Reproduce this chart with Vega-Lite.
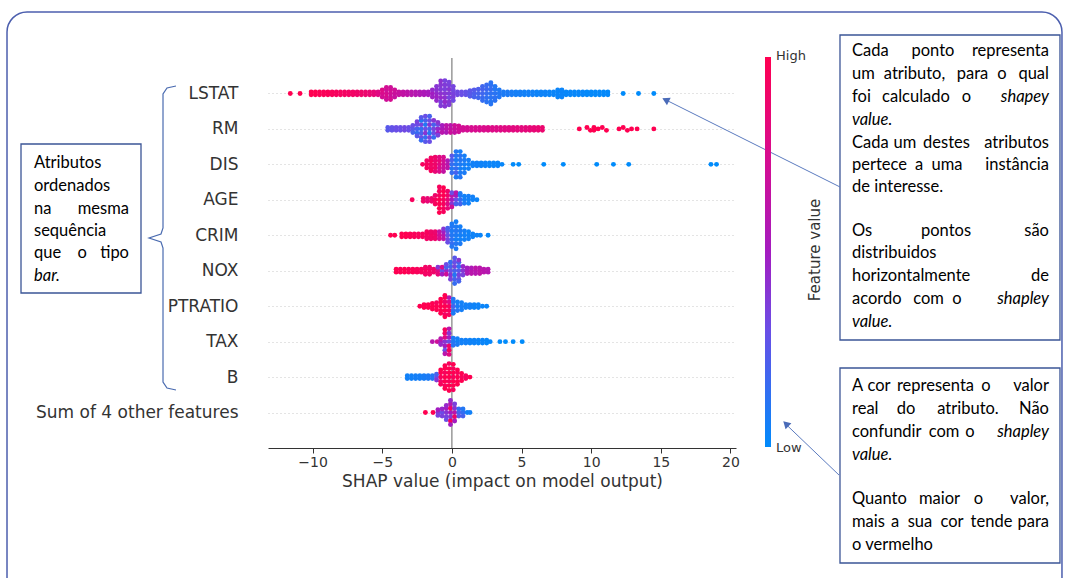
{
"$schema": "https://vega.github.io/schema/vega-lite/v6.json",
"width": 468, "height": 390,
"autosize": "none",
"padding": {"left": 268, "top": 58, "right": 329, "bottom": 130},
"background": "white",
"config": {"view": {"stroke": null}},
"datasets": {
"pts": [
{"x":-11.6,"y":9,"v":1},{"x":-10.9,"y":9,"v":1},
{"x":-10.1,"y":9.04,"v":1},{"x":-10.1,"y":8.96,"v":1},
{"x":-9.8,"y":9.04,"v":1},{"x":-9.8,"y":8.96,"v":1},
{"x":-9.5,"y":9.04,"v":0.98},{"x":-9.5,"y":8.96,"v":0.98},
{"x":-9.2,"y":9.04,"v":0.97},{"x":-9.2,"y":8.96,"v":0.97},
{"x":-8.9,"y":9.04,"v":0.97},{"x":-8.9,"y":8.96,"v":0.97},
{"x":-8.6,"y":9.04,"v":0.96},{"x":-8.6,"y":8.96,"v":0.96},
{"x":-8.3,"y":9.04,"v":0.95},{"x":-8.3,"y":8.96,"v":0.95},
{"x":-8,"y":9.04,"v":0.94},{"x":-8,"y":8.96,"v":0.94},
{"x":-7.7,"y":9.04,"v":0.93},{"x":-7.7,"y":8.96,"v":0.93},
{"x":-7.4,"y":9.04,"v":0.92},{"x":-7.4,"y":8.96,"v":0.92},
{"x":-7.1,"y":9.04,"v":0.92},{"x":-7.1,"y":8.96,"v":0.92},
{"x":-6.8,"y":9.04,"v":0.9},{"x":-6.8,"y":8.96,"v":0.9},
{"x":-6.5,"y":9.04,"v":0.9},{"x":-6.5,"y":8.96,"v":0.9},
{"x":-6.2,"y":9.04,"v":0.88},{"x":-6.2,"y":8.96,"v":0.88},
{"x":-5.9,"y":9.04,"v":0.86},{"x":-5.9,"y":8.96,"v":0.86},
{"x":-5.6,"y":9.04,"v":0.84},{"x":-5.6,"y":8.96,"v":0.84},
{"x":-5.3,"y":9.04,"v":0.8},{"x":-5.3,"y":8.96,"v":0.8},
{"x":-5,"y":9,"v":0.76},{"x":-5,"y":9.1,"v":0.78},{"x":-5,"y":8.9,"v":0.72},
{"x":-4.7,"y":9,"v":0.74},{"x":-4.7,"y":9.1,"v":0.7},{"x":-4.7,"y":8.9,"v":0.76},{"x":-4.7,"y":9.17,"v":0.72},{"x":-4.7,"y":8.83,"v":0.7},
{"x":-4.4,"y":9,"v":0.7},{"x":-4.4,"y":9.1,"v":0.72},{"x":-4.4,"y":8.9,"v":0.68},{"x":-4.4,"y":9.17,"v":0.7},{"x":-4.4,"y":8.83,"v":0.74},
{"x":-4.1,"y":9,"v":0.68},{"x":-4.1,"y":9.1,"v":0.7},{"x":-4.1,"y":8.9,"v":0.66},
{"x":-3.8,"y":9.04,"v":0.66},{"x":-3.8,"y":8.96,"v":0.66},
{"x":-3.5,"y":9.04,"v":0.64},{"x":-3.5,"y":8.96,"v":0.64},
{"x":-3.2,"y":9.04,"v":0.62},{"x":-3.2,"y":8.96,"v":0.62},
{"x":-2.9,"y":9.04,"v":0.6},{"x":-2.9,"y":8.96,"v":0.6},
{"x":-2.6,"y":9.04,"v":0.58},{"x":-2.6,"y":8.96,"v":0.58},
{"x":-2.3,"y":9.04,"v":0.56},{"x":-2.3,"y":8.96,"v":0.56},
{"x":-2,"y":9.04,"v":0.54},{"x":-2,"y":8.96,"v":0.54},
{"x":-1.7,"y":9.04,"v":0.52},{"x":-1.7,"y":8.96,"v":0.52},
{"x":-1.4,"y":9,"v":0.5},{"x":-1.4,"y":9.1,"v":0.45},{"x":-1.4,"y":8.9,"v":0.48},
{"x":-1.1,"y":9,"v":0.45},{"x":-1.1,"y":9.1,"v":0.42},{"x":-1.1,"y":8.9,"v":0.48},{"x":-1.1,"y":9.2,"v":0.4},{"x":-1.1,"y":8.8,"v":0.45},
{"x":-0.8,"y":9,"v":0.42},{"x":-0.8,"y":9.12,"v":0.38},{"x":-0.8,"y":8.88,"v":0.45},{"x":-0.8,"y":9.24,"v":0.4},{"x":-0.8,"y":8.76,"v":0.36},{"x":-0.8,"y":9.35,"v":0.42},{"x":-0.8,"y":8.65,"v":0.38},
{"x":-0.5,"y":9,"v":0.4},{"x":-0.5,"y":9.12,"v":0.36},{"x":-0.5,"y":8.88,"v":0.42},{"x":-0.5,"y":9.24,"v":0.38},{"x":-0.5,"y":8.76,"v":0.44},{"x":-0.5,"y":9.36,"v":0.35},{"x":-0.5,"y":8.64,"v":0.4},
{"x":-0.2,"y":9,"v":0.38},{"x":-0.2,"y":9.12,"v":0.4},{"x":-0.2,"y":8.88,"v":0.34},{"x":-0.2,"y":9.24,"v":0.36},{"x":-0.2,"y":8.76,"v":0.4},{"x":-0.2,"y":9.32,"v":0.35},{"x":-0.2,"y":8.68,"v":0.38},
{"x":0.1,"y":9,"v":0.35},{"x":0.1,"y":9.1,"v":0.33},{"x":0.1,"y":8.9,"v":0.36},{"x":0.1,"y":9.2,"v":0.34},{"x":0.1,"y":8.8,"v":0.32},
{"x":0.4,"y":9.04,"v":0.32},{"x":0.4,"y":8.96,"v":0.32},
{"x":0.7,"y":9.04,"v":0.3},{"x":0.7,"y":8.96,"v":0.3},
{"x":1,"y":9.04,"v":0.28},{"x":1,"y":8.96,"v":0.28},
{"x":1.3,"y":9,"v":0.25},{"x":1.3,"y":9.08,"v":0.26},{"x":1.3,"y":8.92,"v":0.24},
{"x":1.6,"y":9,"v":0.22},{"x":1.6,"y":9.1,"v":0.24},{"x":1.6,"y":8.9,"v":0.2},
{"x":1.9,"y":9,"v":0.2},{"x":1.9,"y":9.12,"v":0.22},{"x":1.9,"y":8.88,"v":0.18},
{"x":2.2,"y":9,"v":0.18},{"x":2.2,"y":9.12,"v":0.2},{"x":2.2,"y":8.88,"v":0.16},{"x":2.2,"y":9.2,"v":0.18},{"x":2.2,"y":8.8,"v":0.15},
{"x":2.5,"y":9,"v":0.15},{"x":2.5,"y":9.12,"v":0.17},{"x":2.5,"y":8.88,"v":0.14},{"x":2.5,"y":9.24,"v":0.16},{"x":2.5,"y":8.76,"v":0.12},
{"x":2.8,"y":9,"v":0.13},{"x":2.8,"y":9.12,"v":0.15},{"x":2.8,"y":8.88,"v":0.12},{"x":2.8,"y":9.24,"v":0.14},{"x":2.8,"y":8.76,"v":0.1},{"x":2.8,"y":9.3,"v":0.12},{"x":2.8,"y":8.7,"v":0.11},
{"x":3.1,"y":9,"v":0.12},{"x":3.1,"y":9.12,"v":0.1},{"x":3.1,"y":8.88,"v":0.13},{"x":3.1,"y":9.2,"v":0.1},{"x":3.1,"y":8.8,"v":0.12},
{"x":3.4,"y":9,"v":0.1},{"x":3.4,"y":9.1,"v":0.09},{"x":3.4,"y":8.9,"v":0.1},
{"x":3.7,"y":9.04,"v":0.08},{"x":3.7,"y":8.96,"v":0.08},
{"x":4,"y":9.04,"v":0.08},{"x":4,"y":8.96,"v":0.08},
{"x":4.3,"y":9.04,"v":0.07},{"x":4.3,"y":8.96,"v":0.07},
{"x":4.6,"y":9.04,"v":0.06},{"x":4.6,"y":8.96,"v":0.06},
{"x":4.9,"y":9.04,"v":0.06},{"x":4.9,"y":8.96,"v":0.06},
{"x":5.2,"y":9.04,"v":0.05},{"x":5.2,"y":8.96,"v":0.05},
{"x":5.5,"y":9.04,"v":0.05},{"x":5.5,"y":8.96,"v":0.05},
{"x":5.8,"y":9.04,"v":0.05},{"x":5.8,"y":8.96,"v":0.05},
{"x":6.1,"y":9.04,"v":0.04},{"x":6.1,"y":8.96,"v":0.04},
{"x":6.4,"y":9.04,"v":0.04},{"x":6.4,"y":8.96,"v":0.04},
{"x":6.7,"y":9.04,"v":0.04},{"x":6.7,"y":8.96,"v":0.04},
{"x":7,"y":9.04,"v":0.03},{"x":7,"y":8.96,"v":0.03},
{"x":7.3,"y":9.04,"v":0.03},{"x":7.3,"y":8.96,"v":0.03},
{"x":7.6,"y":9.04,"v":0.03},{"x":7.6,"y":8.96,"v":0.03},{"x":7.6,"y":9.1,"v":0.03},{"x":7.6,"y":8.9,"v":0.03},
{"x":7.9,"y":9.04,"v":0.03},{"x":7.9,"y":8.96,"v":0.03},{"x":7.9,"y":9.1,"v":0.03},{"x":7.9,"y":8.9,"v":0.03},
{"x":8.2,"y":9.04,"v":0.02},{"x":8.2,"y":8.96,"v":0.02},
{"x":8.5,"y":9.04,"v":0.02},{"x":8.5,"y":8.96,"v":0.02},
{"x":8.8,"y":9.04,"v":0.02},{"x":8.8,"y":8.96,"v":0.02},
{"x":9.1,"y":9.04,"v":0.02},{"x":9.1,"y":8.96,"v":0.02},
{"x":9.4,"y":9.04,"v":0.02},{"x":9.4,"y":8.96,"v":0.02},
{"x":9.7,"y":9.04,"v":0.01},{"x":9.7,"y":8.96,"v":0.01},
{"x":10,"y":9.04,"v":0.01},{"x":10,"y":8.96,"v":0.01},
{"x":10.3,"y":9.04,"v":0.01},{"x":10.3,"y":8.96,"v":0.01},
{"x":10.6,"y":9.04,"v":0.01},{"x":10.6,"y":8.96,"v":0.01},
{"x":10.9,"y":9.04,"v":0.01},{"x":10.9,"y":8.96,"v":0.01},
{"x":11.2,"y":9.04,"v":0.01},{"x":11.2,"y":8.96,"v":0.01},
{"x":12.3,"y":9,"v":0},{"x":13.4,"y":9,"v":0},{"x":14.5,"y":9,"v":0},

{"x":-4.6,"y":8.04,"v":0.25},{"x":-4.6,"y":7.96,"v":0.25},
{"x":-4.3,"y":8.04,"v":0.28},{"x":-4.3,"y":7.96,"v":0.28},
{"x":-4,"y":8.04,"v":0.3},{"x":-4,"y":7.96,"v":0.3},
{"x":-3.7,"y":8.04,"v":0.3},{"x":-3.7,"y":7.96,"v":0.3},
{"x":-3.4,"y":8.04,"v":0.32},{"x":-3.4,"y":7.96,"v":0.32},
{"x":-3.1,"y":8.04,"v":0.3},{"x":-3.1,"y":7.96,"v":0.3},
{"x":-2.8,"y":8,"v":0.25},{"x":-2.8,"y":8.1,"v":0.3},{"x":-2.8,"y":7.9,"v":0.2},
{"x":-2.5,"y":8,"v":0.2},{"x":-2.5,"y":8.12,"v":0.3},{"x":-2.5,"y":7.88,"v":0.15},{"x":-2.5,"y":8.2,"v":0.35},{"x":-2.5,"y":7.8,"v":0.25},
{"x":-2.2,"y":8,"v":0.15},{"x":-2.2,"y":8.12,"v":0.35},{"x":-2.2,"y":7.88,"v":0.2},{"x":-2.2,"y":8.24,"v":0.1},{"x":-2.2,"y":7.76,"v":0.3},{"x":-2.2,"y":8.32,"v":0.25},{"x":-2.2,"y":7.68,"v":0.15},
{"x":-1.9,"y":8,"v":0.3},{"x":-1.9,"y":8.12,"v":0.1},{"x":-1.9,"y":7.88,"v":0.4},{"x":-1.9,"y":8.24,"v":0.2},{"x":-1.9,"y":7.76,"v":0.15},{"x":-1.9,"y":8.36,"v":0.3},{"x":-1.9,"y":7.64,"v":0.25},
{"x":-1.6,"y":8,"v":0.2},{"x":-1.6,"y":8.12,"v":0.4},{"x":-1.6,"y":7.88,"v":0.1},{"x":-1.6,"y":8.24,"v":0.3},{"x":-1.6,"y":7.76,"v":0.35},{"x":-1.6,"y":8.36,"v":0.2},{"x":-1.6,"y":7.64,"v":0.3},
{"x":-1.3,"y":8,"v":0.35},{"x":-1.3,"y":8.12,"v":0.2},{"x":-1.3,"y":7.88,"v":0.3},{"x":-1.3,"y":8.24,"v":0.4},{"x":-1.3,"y":7.76,"v":0.15},
{"x":-1,"y":8,"v":0.45},{"x":-1,"y":8.12,"v":0.3},{"x":-1,"y":7.88,"v":0.5},{"x":-1,"y":8.18,"v":0.4},{"x":-1,"y":7.82,"v":0.35},
{"x":-0.7,"y":8,"v":0.55},{"x":-0.7,"y":8.1,"v":0.5},{"x":-0.7,"y":7.9,"v":0.6},
{"x":-0.4,"y":8,"v":0.6},{"x":-0.4,"y":8.1,"v":0.62},{"x":-0.4,"y":7.9,"v":0.55},
{"x":-0.1,"y":8,"v":0.65},{"x":-0.1,"y":8.1,"v":0.6},{"x":-0.1,"y":7.9,"v":0.68},
{"x":0.2,"y":8,"v":0.68},{"x":0.2,"y":8.1,"v":0.7},{"x":0.2,"y":7.9,"v":0.65},
{"x":0.5,"y":8,"v":0.7},{"x":0.5,"y":8.08,"v":0.72},{"x":0.5,"y":7.92,"v":0.7},
{"x":0.8,"y":8.04,"v":0.72},{"x":0.8,"y":7.96,"v":0.72},
{"x":1.1,"y":8.04,"v":0.73},{"x":1.1,"y":7.96,"v":0.73},
{"x":1.4,"y":8.04,"v":0.74},{"x":1.4,"y":7.96,"v":0.74},
{"x":1.7,"y":8.04,"v":0.75},{"x":1.7,"y":7.96,"v":0.75},
{"x":2,"y":8.04,"v":0.75},{"x":2,"y":7.96,"v":0.75},
{"x":2.3,"y":8.04,"v":0.76},{"x":2.3,"y":7.96,"v":0.76},
{"x":2.6,"y":8.04,"v":0.77},{"x":2.6,"y":7.96,"v":0.77},
{"x":2.9,"y":8.04,"v":0.78},{"x":2.9,"y":7.96,"v":0.78},
{"x":3.2,"y":8.04,"v":0.78},{"x":3.2,"y":7.96,"v":0.78},
{"x":3.5,"y":8.04,"v":0.79},{"x":3.5,"y":7.96,"v":0.79},
{"x":3.8,"y":8.04,"v":0.8},{"x":3.8,"y":7.96,"v":0.8},
{"x":4.1,"y":8.04,"v":0.8},{"x":4.1,"y":7.96,"v":0.8},
{"x":4.4,"y":8.04,"v":0.81},{"x":4.4,"y":7.96,"v":0.81},
{"x":4.7,"y":8.04,"v":0.82},{"x":4.7,"y":7.96,"v":0.82},
{"x":5,"y":8.04,"v":0.82},{"x":5,"y":7.96,"v":0.82},
{"x":5.3,"y":8.04,"v":0.83},{"x":5.3,"y":7.96,"v":0.83},
{"x":5.6,"y":8.04,"v":0.84},{"x":5.6,"y":7.96,"v":0.84},
{"x":5.9,"y":8.04,"v":0.85},{"x":5.9,"y":7.96,"v":0.85},
{"x":6.2,"y":8.04,"v":0.86},{"x":6.2,"y":7.96,"v":0.86},
{"x":6.5,"y":8.04,"v":0.88},{"x":6.5,"y":7.96,"v":0.88},
{"x":9.15,"y":8,"v":1},{"x":9.7,"y":8.04,"v":1},{"x":9.95,"y":7.96,"v":1},{"x":10.2,"y":8.04,"v":1},{"x":10.2,"y":7.96,"v":1},{"x":10.5,"y":8,"v":1},{"x":10.8,"y":8.04,"v":1},{"x":11.1,"y":7.96,"v":1},
{"x":12,"y":8,"v":1},{"x":12.3,"y":8.04,"v":1},{"x":12.6,"y":7.96,"v":1},{"x":12.9,"y":8,"v":1},{"x":13.3,"y":8,"v":1},{"x":14.5,"y":8,"v":1},

{"x":-2.1,"y":7,"v":0.95},
{"x":-1.8,"y":7,"v":0.95},{"x":-1.8,"y":7.1,"v":0.92},{"x":-1.8,"y":6.9,"v":0.95},
{"x":-1.5,"y":7,"v":0.92},{"x":-1.5,"y":7.1,"v":0.95},{"x":-1.5,"y":6.9,"v":0.9},{"x":-1.5,"y":7.18,"v":0.92},{"x":-1.5,"y":6.82,"v":0.95},
{"x":-1.2,"y":7,"v":0.9},{"x":-1.2,"y":7.1,"v":0.88},{"x":-1.2,"y":6.9,"v":0.92},{"x":-1.2,"y":7.2,"v":0.9},{"x":-1.2,"y":6.8,"v":0.85},
{"x":-0.9,"y":7,"v":0.8},{"x":-0.9,"y":7.1,"v":0.85},{"x":-0.9,"y":6.9,"v":0.75},{"x":-0.9,"y":7.2,"v":0.8},{"x":-0.9,"y":6.8,"v":0.78},
{"x":-0.6,"y":7,"v":0.7},{"x":-0.6,"y":7.1,"v":0.72},{"x":-0.6,"y":6.9,"v":0.68},{"x":-0.6,"y":7.2,"v":0.75},{"x":-0.6,"y":6.8,"v":0.65},
{"x":-0.3,"y":7,"v":0.6},{"x":-0.3,"y":7.1,"v":0.55},{"x":-0.3,"y":6.9,"v":0.62},
{"x":0,"y":7,"v":0.15},{"x":0,"y":7.12,"v":0.2},{"x":0,"y":6.88,"v":0.1},{"x":0,"y":7.24,"v":0.25},{"x":0,"y":6.76,"v":0.15},
{"x":0.3,"y":7,"v":0.1},{"x":0.3,"y":7.12,"v":0.08},{"x":0.3,"y":6.88,"v":0.15},{"x":0.3,"y":7.24,"v":0.1},{"x":0.3,"y":6.76,"v":0.2},{"x":0.3,"y":7.36,"v":0.1},{"x":0.3,"y":6.64,"v":0.08},
{"x":0.6,"y":7,"v":0.08},{"x":0.6,"y":7.12,"v":0.1},{"x":0.6,"y":6.88,"v":0.06},{"x":0.6,"y":7.24,"v":0.12},{"x":0.6,"y":6.76,"v":0.08},{"x":0.6,"y":7.36,"v":0.06},{"x":0.6,"y":6.64,"v":0.1},
{"x":0.9,"y":7,"v":0.06},{"x":0.9,"y":7.12,"v":0.08},{"x":0.9,"y":6.88,"v":0.05},{"x":0.9,"y":7.24,"v":0.06},{"x":0.9,"y":6.76,"v":0.08},
{"x":1.2,"y":7,"v":0.05},{"x":1.2,"y":7.12,"v":0.06},{"x":1.2,"y":6.88,"v":0.05},
{"x":1.5,"y":7.04,"v":0.05},{"x":1.5,"y":6.96,"v":0.05},
{"x":1.8,"y":7.04,"v":0.05},{"x":1.8,"y":6.96,"v":0.05},
{"x":2.1,"y":7.04,"v":0.04},{"x":2.1,"y":6.96,"v":0.04},
{"x":2.4,"y":7.04,"v":0.04},{"x":2.4,"y":6.96,"v":0.04},
{"x":2.7,"y":7.04,"v":0.03},{"x":2.7,"y":6.96,"v":0.03},
{"x":3,"y":7.04,"v":0.03},{"x":3,"y":6.96,"v":0.03},
{"x":3.3,"y":7.04,"v":0.03},{"x":3.3,"y":6.96,"v":0.03},
{"x":3.6,"y":7,"v":0.02},
{"x":4.4,"y":7,"v":0},{"x":4.8,"y":7,"v":0},{"x":6.6,"y":7,"v":0},{"x":8,"y":7,"v":0},{"x":10.4,"y":7,"v":0},{"x":11.6,"y":7,"v":0},{"x":12.7,"y":7,"v":0},{"x":18.6,"y":7,"v":0},{"x":19,"y":7,"v":0},

{"x":-2.85,"y":6,"v":0.95},
{"x":-2.05,"y":6.04,"v":0.9},{"x":-2.05,"y":5.96,"v":0.9},
{"x":-1.75,"y":6.04,"v":0.85},{"x":-1.75,"y":5.96,"v":0.85},
{"x":-1.45,"y":6.04,"v":0.9},{"x":-1.45,"y":5.96,"v":0.9},
{"x":-1.2,"y":6,"v":0.95},{"x":-1.2,"y":6.12,"v":0.9},{"x":-1.2,"y":5.88,"v":0.95},
{"x":-0.9,"y":6,"v":1},{"x":-0.9,"y":6.12,"v":0.95},{"x":-0.9,"y":5.88,"v":1},{"x":-0.9,"y":6.24,"v":0.95},{"x":-0.9,"y":5.76,"v":1},{"x":-0.9,"y":6.36,"v":0.95},{"x":-0.9,"y":5.64,"v":1},
{"x":-0.6,"y":6,"v":0.95},{"x":-0.6,"y":6.12,"v":1},{"x":-0.6,"y":5.88,"v":0.95},{"x":-0.6,"y":6.24,"v":1},{"x":-0.6,"y":5.76,"v":0.95},{"x":-0.6,"y":6.34,"v":1},{"x":-0.6,"y":5.66,"v":0.95},
{"x":-0.3,"y":6,"v":0.85},{"x":-0.3,"y":6.12,"v":0.9},{"x":-0.3,"y":5.88,"v":0.8},{"x":-0.3,"y":6.24,"v":0.9},{"x":-0.3,"y":5.76,"v":0.85},
{"x":0,"y":6,"v":0.5},{"x":0,"y":6.12,"v":0.6},{"x":0,"y":5.88,"v":0.4},{"x":0,"y":6.2,"v":0.3},{"x":0,"y":5.8,"v":0.7},
{"x":0.3,"y":6,"v":0.3},{"x":0.3,"y":6.12,"v":0.5},{"x":0.3,"y":5.88,"v":0.2},{"x":0.3,"y":6.2,"v":0.6},
{"x":0.6,"y":6,"v":0.15},{"x":0.6,"y":6.12,"v":0.1},{"x":0.6,"y":5.88,"v":0.2},{"x":0.6,"y":6.18,"v":0.08},
{"x":0.9,"y":6,"v":0.06},{"x":0.9,"y":6.1,"v":0.05},{"x":0.9,"y":5.9,"v":0.08},
{"x":1.2,"y":6,"v":0.05},{"x":1.2,"y":6.1,"v":0.06},{"x":1.2,"y":5.9,"v":0.05},
{"x":1.5,"y":6,"v":0.04},{"x":1.5,"y":6.08,"v":0.05},
{"x":1.8,"y":6,"v":0.03},

{"x":-4.4,"y":5,"v":1},{"x":-4.1,"y":5,"v":1},
{"x":-3.6,"y":5.04,"v":1},{"x":-3.6,"y":4.96,"v":1},
{"x":-3.3,"y":5.04,"v":1},{"x":-3.3,"y":4.96,"v":1},
{"x":-3,"y":5.04,"v":0.98},{"x":-3,"y":4.96,"v":0.98},
{"x":-2.7,"y":5.04,"v":0.97},{"x":-2.7,"y":4.96,"v":0.97},
{"x":-2.4,"y":5.04,"v":0.96},{"x":-2.4,"y":4.96,"v":0.96},
{"x":-2.1,"y":5.04,"v":0.95},{"x":-2.1,"y":4.96,"v":0.95},
{"x":-1.8,"y":5.04,"v":0.94},{"x":-1.8,"y":4.96,"v":0.94},{"x":-1.8,"y":5.1,"v":0.95},{"x":-1.8,"y":4.9,"v":0.92},
{"x":-1.5,"y":5.04,"v":0.92},{"x":-1.5,"y":4.96,"v":0.92},{"x":-1.5,"y":5.1,"v":0.9},{"x":-1.5,"y":4.9,"v":0.9},
{"x":-1.2,"y":5.04,"v":0.9},{"x":-1.2,"y":4.96,"v":0.9},{"x":-1.2,"y":5.1,"v":0.88},{"x":-1.2,"y":4.9,"v":0.9},
{"x":-0.9,"y":5,"v":0.7},{"x":-0.9,"y":5.1,"v":0.65},{"x":-0.9,"y":4.9,"v":0.75},
{"x":-0.6,"y":5,"v":0.6},{"x":-0.6,"y":5.1,"v":0.5},{"x":-0.6,"y":4.9,"v":0.62},{"x":-0.6,"y":5.18,"v":0.4},
{"x":-0.3,"y":5,"v":0.3},{"x":-0.3,"y":5.12,"v":0.25},{"x":-0.3,"y":4.88,"v":0.35},{"x":-0.3,"y":5.2,"v":0.2},{"x":-0.3,"y":4.8,"v":0.3},
{"x":0,"y":5,"v":0.1},{"x":0,"y":5.12,"v":0.08},{"x":0,"y":4.88,"v":0.12},{"x":0,"y":5.24,"v":0.1},{"x":0,"y":4.76,"v":0.15},{"x":0,"y":5.32,"v":0.08},{"x":0,"y":4.68,"v":0.1},
{"x":0.3,"y":5,"v":0.08},{"x":0.3,"y":5.12,"v":0.1},{"x":0.3,"y":4.88,"v":0.06},{"x":0.3,"y":5.24,"v":0.08},{"x":0.3,"y":4.76,"v":0.1},{"x":0.3,"y":5.38,"v":0.06},{"x":0.3,"y":4.62,"v":0.08},
{"x":0.6,"y":5,"v":0.06},{"x":0.6,"y":5.12,"v":0.08},{"x":0.6,"y":4.88,"v":0.05},{"x":0.6,"y":5.24,"v":0.06},{"x":0.6,"y":4.76,"v":0.08},
{"x":0.9,"y":5,"v":0.05},{"x":0.9,"y":5.12,"v":0.06},{"x":0.9,"y":4.88,"v":0.05},
{"x":1.2,"y":5,"v":0.05},{"x":1.2,"y":5.1,"v":0.04},{"x":1.2,"y":4.9,"v":0.05},
{"x":1.5,"y":5.04,"v":0.04},{"x":1.5,"y":4.96,"v":0.04},
{"x":1.8,"y":5,"v":0.04},{"x":2.05,"y":5,"v":0.03},{"x":2.6,"y":5,"v":0.02},

{"x":-4,"y":4.04,"v":1},{"x":-4,"y":3.96,"v":1},
{"x":-3.7,"y":4.04,"v":0.98},{"x":-3.7,"y":3.96,"v":0.98},
{"x":-3.4,"y":4.04,"v":1},{"x":-3.4,"y":3.96,"v":1},
{"x":-3.1,"y":4.04,"v":0.97},{"x":-3.1,"y":3.96,"v":0.97},
{"x":-2.8,"y":4.04,"v":0.98},{"x":-2.8,"y":3.96,"v":0.98},
{"x":-2.5,"y":4.04,"v":0.96},{"x":-2.5,"y":3.96,"v":0.96},
{"x":-2.2,"y":4.04,"v":0.95},{"x":-2.2,"y":3.96,"v":0.95},
{"x":-1.9,"y":4.04,"v":0.95},{"x":-1.9,"y":3.96,"v":0.95},{"x":-1.9,"y":4.1,"v":0.92},{"x":-1.9,"y":3.9,"v":0.92},
{"x":-1.6,"y":4.04,"v":0.93},{"x":-1.6,"y":3.96,"v":0.93},{"x":-1.6,"y":4.1,"v":0.9},{"x":-1.6,"y":3.9,"v":0.92},
{"x":-1.3,"y":4.04,"v":0.9},{"x":-1.3,"y":3.96,"v":0.9},
{"x":-1,"y":4,"v":0.8},{"x":-1,"y":4.1,"v":0.4},{"x":-1,"y":3.9,"v":0.85},
{"x":-0.7,"y":4,"v":0.3},{"x":-0.7,"y":4.1,"v":0.75},{"x":-0.7,"y":3.9,"v":0.5},
{"x":-0.4,"y":4,"v":0.45},{"x":-0.4,"y":4.1,"v":0.2},{"x":-0.4,"y":3.9,"v":0.7},{"x":-0.4,"y":4.18,"v":0.3},
{"x":-0.1,"y":4,"v":0.3},{"x":-0.1,"y":4.12,"v":0.2},{"x":-0.1,"y":3.88,"v":0.4},{"x":-0.1,"y":4.24,"v":0.15},{"x":-0.1,"y":3.76,"v":0.35},
{"x":0.2,"y":4,"v":0.2},{"x":0.2,"y":4.12,"v":0.35},{"x":0.2,"y":3.88,"v":0.1},{"x":0.2,"y":4.24,"v":0.3},{"x":0.2,"y":3.76,"v":0.2},{"x":0.2,"y":4.36,"v":0.25},{"x":0.2,"y":3.64,"v":0.15},
{"x":0.5,"y":4,"v":0.25},{"x":0.5,"y":4.12,"v":0.15},{"x":0.5,"y":3.88,"v":0.35},{"x":0.5,"y":4.24,"v":0.2},{"x":0.5,"y":3.76,"v":0.3},{"x":0.5,"y":4.3,"v":0.4},{"x":0.5,"y":3.7,"v":0.2},
{"x":0.8,"y":4,"v":0.4},{"x":0.8,"y":4.12,"v":0.45},{"x":0.8,"y":3.88,"v":0.35},
{"x":1.1,"y":4,"v":0.55},{"x":1.1,"y":4.08,"v":0.5},{"x":1.1,"y":3.92,"v":0.55},
{"x":1.4,"y":4,"v":0.6},{"x":1.4,"y":4.08,"v":0.55},{"x":1.4,"y":3.92,"v":0.6},
{"x":1.7,"y":4,"v":0.6},{"x":1.7,"y":4.08,"v":0.62},{"x":1.7,"y":3.92,"v":0.58},
{"x":2,"y":4,"v":0.62},{"x":2,"y":4.08,"v":0.6},{"x":2,"y":3.92,"v":0.62},
{"x":2.3,"y":4.04,"v":0.6},{"x":2.3,"y":3.96,"v":0.6},
{"x":2.6,"y":4.04,"v":0.58},{"x":2.6,"y":3.96,"v":0.58},

{"x":-2.3,"y":3,"v":1},
{"x":-2,"y":3.04,"v":1},{"x":-2,"y":2.96,"v":1},
{"x":-1.7,"y":3.04,"v":1},{"x":-1.7,"y":2.96,"v":1},
{"x":-1.4,"y":3,"v":1},{"x":-1.4,"y":3.08,"v":1},{"x":-1.4,"y":2.92,"v":1},
{"x":-1.1,"y":3,"v":1},{"x":-1.1,"y":3.1,"v":0.95},{"x":-1.1,"y":2.9,"v":1},
{"x":-0.8,"y":3,"v":1},{"x":-0.8,"y":3.12,"v":1},{"x":-0.8,"y":2.88,"v":1},{"x":-0.8,"y":3.2,"v":1},{"x":-0.8,"y":2.8,"v":1},
{"x":-0.5,"y":3,"v":1},{"x":-0.5,"y":3.12,"v":0.9},{"x":-0.5,"y":2.88,"v":1},{"x":-0.5,"y":3.24,"v":1},{"x":-0.5,"y":2.76,"v":0.9},{"x":-0.5,"y":3.3,"v":1},{"x":-0.5,"y":2.7,"v":1},
{"x":-0.2,"y":3,"v":0.95},{"x":-0.2,"y":3.12,"v":0.8},{"x":-0.2,"y":2.88,"v":0.95},{"x":-0.2,"y":3.24,"v":0.6},{"x":-0.2,"y":2.76,"v":0.95},
{"x":0.1,"y":3,"v":0.2},{"x":0.1,"y":3.12,"v":0.1},{"x":0.1,"y":2.88,"v":0.15},{"x":0.1,"y":3.2,"v":0.1},{"x":0.1,"y":2.8,"v":0.08},
{"x":0.4,"y":3,"v":0.08},{"x":0.4,"y":3.12,"v":0.06},{"x":0.4,"y":2.88,"v":0.1},
{"x":0.7,"y":3,"v":0.06},{"x":0.7,"y":3.1,"v":0.05},{"x":0.7,"y":2.9,"v":0.06},
{"x":1,"y":3.04,"v":0.05},{"x":1,"y":2.96,"v":0.05},
{"x":1.3,"y":3.04,"v":0.05},{"x":1.3,"y":2.96,"v":0.05},
{"x":1.6,"y":3.04,"v":0.04},{"x":1.6,"y":2.96,"v":0.04},
{"x":1.9,"y":3.04,"v":0.04},{"x":1.9,"y":2.96,"v":0.04},
{"x":2.2,"y":3,"v":0.03},{"x":2.5,"y":3,"v":0.03},

{"x":-1.4,"y":2,"v":0.6},
{"x":-1.05,"y":2,"v":0.7},
{"x":-0.8,"y":2,"v":0.5},{"x":-0.8,"y":2.08,"v":0.6},{"x":-0.8,"y":1.92,"v":0.45},
{"x":-0.5,"y":2,"v":0.4},{"x":-0.5,"y":2.12,"v":0.8},{"x":-0.5,"y":1.88,"v":0.5},{"x":-0.5,"y":2.24,"v":0.9},{"x":-0.5,"y":1.76,"v":0.3},{"x":-0.5,"y":2.34,"v":0.95},{"x":-0.5,"y":1.66,"v":0.6},
{"x":-0.2,"y":2,"v":0.3},{"x":-0.2,"y":2.12,"v":0.5},{"x":-0.2,"y":1.88,"v":0.9},{"x":-0.2,"y":2.24,"v":0.4},{"x":-0.2,"y":1.76,"v":0.95},{"x":-0.2,"y":2.36,"v":0.6},{"x":-0.2,"y":1.64,"v":0.8},
{"x":0.1,"y":2,"v":0.1},{"x":0.1,"y":2.1,"v":0.08},{"x":0.1,"y":1.9,"v":0.12},
{"x":0.4,"y":2,"v":0.06},{"x":0.4,"y":2.08,"v":0.05},{"x":0.4,"y":1.92,"v":0.08},
{"x":0.7,"y":2.04,"v":0.05},{"x":0.7,"y":1.96,"v":0.05},
{"x":1,"y":2.04,"v":0.05},{"x":1,"y":1.96,"v":0.05},
{"x":1.3,"y":2.04,"v":0.04},{"x":1.3,"y":1.96,"v":0.04},
{"x":1.6,"y":2.04,"v":0.04},{"x":1.6,"y":1.96,"v":0.04},
{"x":1.9,"y":2.04,"v":0.03},{"x":1.9,"y":1.96,"v":0.03},
{"x":2.2,"y":2.04,"v":0.03},{"x":2.2,"y":1.96,"v":0.03},
{"x":2.5,"y":2.04,"v":0.02},{"x":2.5,"y":1.96,"v":0.02},
{"x":2.75,"y":2,"v":0.02},
{"x":3.45,"y":2,"v":0},{"x":3.85,"y":2,"v":0},{"x":4.4,"y":2,"v":0},{"x":5.05,"y":2,"v":0},

{"x":-3.2,"y":1.04,"v":0.05},{"x":-3.2,"y":0.96,"v":0.05},
{"x":-2.9,"y":1.04,"v":0.05},{"x":-2.9,"y":0.96,"v":0.05},
{"x":-2.6,"y":1.04,"v":0.06},{"x":-2.6,"y":0.96,"v":0.06},
{"x":-2.3,"y":1.04,"v":0.06},{"x":-2.3,"y":0.96,"v":0.06},
{"x":-2,"y":1.04,"v":0.07},{"x":-2,"y":0.96,"v":0.07},
{"x":-1.7,"y":1.04,"v":0.08},{"x":-1.7,"y":0.96,"v":0.08},
{"x":-1.4,"y":1.04,"v":0.1},{"x":-1.4,"y":0.96,"v":0.1},
{"x":-1.1,"y":1,"v":0.3},{"x":-1.1,"y":1.08,"v":0.2},{"x":-1.1,"y":0.92,"v":0.4},
{"x":-0.8,"y":1,"v":0.95},{"x":-0.8,"y":1.12,"v":1},{"x":-0.8,"y":0.88,"v":0.9},{"x":-0.8,"y":1.2,"v":1},{"x":-0.8,"y":0.8,"v":0.95},
{"x":-0.5,"y":1,"v":1},{"x":-0.5,"y":1.12,"v":0.95},{"x":-0.5,"y":0.88,"v":1},{"x":-0.5,"y":1.24,"v":1},{"x":-0.5,"y":0.76,"v":0.95},{"x":-0.5,"y":1.32,"v":1},{"x":-0.5,"y":0.68,"v":1},
{"x":-0.2,"y":1,"v":1},{"x":-0.2,"y":1.12,"v":1},{"x":-0.2,"y":0.88,"v":0.95},{"x":-0.2,"y":1.24,"v":1},{"x":-0.2,"y":0.76,"v":1},{"x":-0.2,"y":1.38,"v":0.95},{"x":-0.2,"y":0.62,"v":1},
{"x":0.1,"y":1,"v":0.95},{"x":0.1,"y":1.12,"v":1},{"x":0.1,"y":0.88,"v":1},{"x":0.1,"y":1.24,"v":0.95},{"x":0.1,"y":0.76,"v":1},{"x":0.1,"y":1.36,"v":1},{"x":0.1,"y":0.64,"v":0.95},
{"x":0.4,"y":1,"v":1},{"x":0.4,"y":1.12,"v":0.95},{"x":0.4,"y":0.88,"v":1},{"x":0.4,"y":1.2,"v":1},{"x":0.4,"y":0.8,"v":1},
{"x":0.7,"y":1,"v":0.95},{"x":0.7,"y":1.1,"v":1},{"x":0.7,"y":0.9,"v":1},
{"x":1,"y":1.04,"v":0.95},{"x":1,"y":0.96,"v":0.95},
{"x":1.3,"y":1,"v":1},

{"x":-1.9,"y":0,"v":1},{"x":-1.35,"y":0,"v":1},
{"x":-1,"y":0,"v":0.4},{"x":-1,"y":0.08,"v":0.5},{"x":-1,"y":-0.08,"v":0.35},
{"x":-0.7,"y":0,"v":0.3},{"x":-0.7,"y":0.1,"v":0.45},{"x":-0.7,"y":-0.1,"v":0.35},
{"x":-0.4,"y":0,"v":0.4},{"x":-0.4,"y":0.12,"v":0.5},{"x":-0.4,"y":-0.12,"v":0.35},{"x":-0.4,"y":0.2,"v":0.45},{"x":-0.4,"y":-0.2,"v":0.3},
{"x":-0.1,"y":0,"v":0.5},{"x":-0.1,"y":0.12,"v":0.9},{"x":-0.1,"y":-0.12,"v":0.4},{"x":-0.1,"y":0.24,"v":0.6},{"x":-0.1,"y":-0.24,"v":0.95},{"x":-0.1,"y":0.34,"v":0.45},{"x":-0.1,"y":-0.34,"v":0.5},
{"x":0.2,"y":0,"v":0.6},{"x":0.2,"y":0.12,"v":0.4},{"x":0.2,"y":-0.12,"v":0.9},{"x":0.2,"y":0.24,"v":0.35},{"x":0.2,"y":-0.24,"v":0.5},
{"x":0.5,"y":0,"v":0.2},{"x":0.5,"y":0.1,"v":0.15},{"x":0.5,"y":-0.1,"v":0.25},
{"x":0.8,"y":0,"v":0.15},{"x":0.8,"y":0.1,"v":0.1},{"x":0.8,"y":-0.1,"v":0.2},
{"x":1.1,"y":0,"v":0.05},{"x":1.3,"y":0,"v":0.05}
],
"txt": [
{"t":"Atributos","x":-30.0,"y":7.038,"a":"l","s":"n"},
{"t":"ordenados","x":-30.0,"y":6.39,"a":"l","s":"n"},
{"t":"na","x":-30.0,"y":5.741,"a":"l","s":"n"},
{"t":"mesma","x":-23.18,"y":5.741,"a":"r","s":"n"},
{"t":"sequência","x":-30.0,"y":5.121,"a":"l","s":"n"},
{"t":"que","x":-30.0,"y":4.5,"a":"l","s":"n"},
{"t":"o","x":-26.55,"y":4.5,"a":"c","s":"n"},
{"t":"tipo","x":-23.18,"y":4.5,"a":"r","s":"n"},
{"t":"bar.","x":-30.0,"y":3.851,"a":"l","s":"i"},
{"t":"Cada","x":28.73,"y":10.197,"a":"l","s":"n"},
{"t":"ponto","x":34.54,"y":10.197,"a":"c","s":"n"},
{"t":"representa","x":42.87,"y":10.197,"a":"r","s":"n"},
{"t":"um","x":28.73,"y":9.549,"a":"l","s":"n"},
{"t":"atributo,","x":33.214,"y":9.549,"a":"c","s":"n"},
{"t":"para","x":37.378,"y":9.549,"a":"c","s":"n"},
{"t":"o","x":39.496,"y":9.549,"a":"c","s":"n"},
{"t":"qual","x":42.87,"y":9.549,"a":"r","s":"n"},
{"t":"foi","x":28.73,"y":8.9,"a":"l","s":"n"},
{"t":"calculado","x":33.322,"y":8.9,"a":"c","s":"n"},
{"t":"o","x":36.947,"y":8.9,"a":"c","s":"n"},
{"t":"shapey","x":42.87,"y":8.9,"a":"r","s":"i"},
{"t":"value.","x":28.73,"y":8.251,"a":"l","s":"i"},
{"t":"Cada","x":28.73,"y":7.603,"a":"l","s":"n"},
{"t":"um","x":32.532,"y":7.603,"a":"c","s":"n"},
{"t":"destes","x":35.511,"y":7.603,"a":"c","s":"n"},
{"t":"atributos","x":42.87,"y":7.603,"a":"r","s":"n"},
{"t":"pertece","x":28.73,"y":6.982,"a":"l","s":"n"},
{"t":"a","x":33.537,"y":6.982,"a":"c","s":"n"},
{"t":"uma","x":35.547,"y":6.982,"a":"c","s":"n"},
{"t":"instância","x":42.87,"y":6.982,"a":"r","s":"n"},
{"t":"de interesse.","x":28.73,"y":6.362,"a":"l","s":"n"},
{"t":"Os","x":28.73,"y":5.121,"a":"l","s":"n"},
{"t":"pontos","x":35.476,"y":5.121,"a":"c","s":"n"},
{"t":"são","x":42.87,"y":5.121,"a":"r","s":"n"},
{"t":"distribuidos","x":28.73,"y":4.5,"a":"l","s":"n"},
{"t":"horizontalmente","x":28.73,"y":3.851,"a":"l","s":"n"},
{"t":"de","x":42.87,"y":3.851,"a":"r","s":"n"},
{"t":"acordo","x":28.73,"y":3.203,"a":"l","s":"n"},
{"t":"com","x":34.219,"y":3.203,"a":"c","s":"n"},
{"t":"o","x":36.265,"y":3.203,"a":"c","s":"n"},
{"t":"shapley","x":42.87,"y":3.203,"a":"r","s":"i"},
{"t":"value.","x":28.73,"y":2.554,"a":"l","s":"i"},
{"t":"A","x":28.73,"y":0.749,"a":"l","s":"n"},
{"t":"cor","x":30.665,"y":0.749,"a":"c","s":"n"},
{"t":"representa","x":34.721,"y":0.749,"a":"c","s":"n"},
{"t":"o","x":38.347,"y":0.749,"a":"c","s":"n"},
{"t":"valor","x":42.87,"y":0.749,"a":"r","s":"n"},
{"t":"real","x":28.73,"y":0.1,"a":"l","s":"n"},
{"t":"do","x":32.604,"y":0.1,"a":"c","s":"n"},
{"t":"atributo.","x":37.055,"y":0.1,"a":"c","s":"n"},
{"t":"Não","x":42.87,"y":0.1,"a":"r","s":"n"},
{"t":"confundir","x":28.73,"y":-0.549,"a":"l","s":"n"},
{"t":"com","x":35.332,"y":-0.549,"a":"c","s":"n"},
{"t":"o","x":37.199,"y":-0.549,"a":"c","s":"n"},
{"t":"shapley","x":42.87,"y":-0.549,"a":"r","s":"i"},
{"t":"value.","x":28.73,"y":-1.197,"a":"l","s":"i"},
{"t":"Quanto","x":28.73,"y":-2.438,"a":"l","s":"n"},
{"t":"maior","x":35.009,"y":-2.438,"a":"c","s":"n"},
{"t":"o","x":37.809,"y":-2.438,"a":"c","s":"n"},
{"t":"valor,","x":42.87,"y":-2.438,"a":"r","s":"n"},
{"t":"mais","x":28.73,"y":-3.087,"a":"l","s":"n"},
{"t":"a","x":31.814,"y":-3.087,"a":"c","s":"n"},
{"t":"sua","x":33.609,"y":-3.087,"a":"c","s":"n"},
{"t":"cor","x":35.906,"y":-3.087,"a":"c","s":"n"},
{"t":"tende","x":38.742,"y":-3.087,"a":"c","s":"n"},
{"t":"para","x":42.87,"y":-3.087,"a":"r","s":"n"},
{"t":"o vermelho","x":28.73,"y":-3.736,"a":"l","s":"n"}
],
"cbtxt": [
{"t":"High","x":23.271,"y":10.05},
{"t":"Low","x":23.271,"y":-1.0}
],
"cbtitle": [{"t":"Feature value","x":26.07,"y":4.585}],
"zero": [{"z":0}],
"box": [
{"x":-30.933,"x2":-22.318,"y":7.574,"y2":3.372},
{"x":27.866,"x2":43.66,"y":10.649,"y2":2.046},
{"x":27.866,"x2":43.66,"y":1.256,"y2":-4.244}
],
"outer": [{"x":-31.938,"x2":43.803,"y":11.297,"y2":-5.287}],
"brace": [
{"o":1,"x":-19.805,"y":9.21},{"o":2,"x":-20.451,"y":9.154},{"o":3,"x":-20.738,"y":8.985},
{"o":4,"x":-20.738,"y":5.205},{"o":5,"x":-20.882,"y":5.036},{"o":6,"x":-21.743,"y":4.923},
{"o":7,"x":-20.882,"y":4.81},{"o":8,"x":-20.738,"y":4.641},{"o":9,"x":-20.738,"y":0.862},
{"o":10,"x":-20.451,"y":0.692},{"o":11,"x":-19.805,"y":0.636}
],
"arrows": [
{"x":27.866,"y":6.362,"x2":15.2,"y2":8.85},
{"x":27.794,"y":-1.762,"x2":23.85,"y2":-0.28}
],
"heads": [
{"x":15.345,"y":8.821,"a":296.6},
{"x":23.981,"y":-0.317,"a":314}
]
},
"layer": [
{
"data": {"name": "zero"},
"mark": {"type": "rule", "color": "#999999", "strokeWidth": 1.5},
"encoding": {"x": {"field": "z", "type": "quantitative", "scale": {"domain": [-13.2, 20.4], "nice": false, "zero": false}}}
},
{
"data": {"name": "pts"},
"mark": {"type": "circle", "size": 24, "opacity": 1},
"encoding": {
"x": {"field": "x", "type": "quantitative", "scale": {"domain": [-13.2, 20.4], "nice": false, "zero": false},
"axis": {"values": [-10, -5, 0, 5, 10, 15, 20], "title": "SHAP value (impact on model output)", "grid": false, "domainColor": "#333333", "domainWidth": 1, "tickColor": "#333333", "tickSize": 5, "labelFont": "DejaVu Sans", "labelFontSize": 14, "labelColor": "#333333", "labelPadding": 2, "labelFlush": false, "titleFont": "DejaVu Sans", "titleFontSize": 17, "titleFontWeight": "normal", "titleColor": "#333333", "titlePadding": 4}},
"y": {"field": "y", "type": "quantitative", "scale": {"domain": [-1, 10], "nice": false, "zero": false},
"axis": {"values": [0, 1, 2, 3, 4, 5, 6, 7, 8, 9], "labelExpr": "['Sum of 4 other features','B','TAX','PTRATIO','NOX','CRIM','AGE','DIS','RM','LSTAT'][datum.value]", "labelLimit": 400, "title": null, "domain": false, "ticks": false, "grid": true, "gridColor": "#c8c8c8", "gridDash": [1, 3], "gridWidth": 1, "labelFont": "DejaVu Sans", "labelFontSize": 17, "labelColor": "#333333", "labelPadding": 30}},
"color": {"field": "v", "type": "quantitative", "scale": {"domain": [0, 0.3, 0.5, 0.75, 1], "range": ["#008bfb", "#6a4ee6", "#a41cc0", "#d80c8e", "#ff0051"], "interpolate": "rgb"},
"legend": {"orient": "none", "legendX": 497, "legendY": -1, "direction": "vertical", "gradientLength": 390, "gradientThickness": 6, "gradientStrokeWidth": 0, "values": [0, 1], "labelExpr": "''", "labelOpacity": 0, "title": null}}
}
},
{
"data": {"name": "outer"},
"mark": {"type": "rect", "filled": false, "stroke": "#4c5fae", "strokeWidth": 1.5, "cornerRadius": 20},
"encoding": {
"x": {"field": "x", "type": "quantitative", "scale": {"domain": [-13.2, 20.4], "nice": false, "zero": false}},
"x2": {"field": "x2"},
"y": {"field": "y", "type": "quantitative", "scale": {"domain": [-1, 10], "nice": false, "zero": false}},
"y2": {"field": "y2"}
}
},
{
"data": {"name": "box"},
"mark": {"type": "rect", "filled": false, "stroke": "#3b5596", "strokeWidth": 1.3},
"encoding": {
"x": {"field": "x", "type": "quantitative", "scale": {"domain": [-13.2, 20.4], "nice": false, "zero": false}},
"x2": {"field": "x2"},
"y": {"field": "y", "type": "quantitative", "scale": {"domain": [-1, 10], "nice": false, "zero": false}},
"y2": {"field": "y2"}
}
},
{
"data": {"name": "brace"},
"mark": {"type": "line", "color": "#4a6bb0", "strokeWidth": 1.2},
"encoding": {
"x": {"field": "x", "type": "quantitative", "scale": {"domain": [-13.2, 20.4], "nice": false, "zero": false}},
"y": {"field": "y", "type": "quantitative", "scale": {"domain": [-1, 10], "nice": false, "zero": false}},
"order": {"field": "o"}
}
},
{
"data": {"name": "arrows"},
"mark": {"type": "rule", "color": "#5b7bbf", "strokeWidth": 1},
"encoding": {
"x": {"field": "x", "type": "quantitative", "scale": {"domain": [-13.2, 20.4], "nice": false, "zero": false}},
"x2": {"field": "x2"},
"y": {"field": "y", "type": "quantitative", "scale": {"domain": [-1, 10], "nice": false, "zero": false}},
"y2": {"field": "y2"}
}
},
{
"data": {"name": "heads"},
"mark": {"type": "point", "shape": "triangle-up", "filled": true, "size": 70, "color": "#4a6bb8", "opacity": 1},
"encoding": {
"x": {"field": "x", "type": "quantitative", "scale": {"domain": [-13.2, 20.4], "nice": false, "zero": false}},
"y": {"field": "y", "type": "quantitative", "scale": {"domain": [-1, 10], "nice": false, "zero": false}},
"angle": {"field": "a", "type": "quantitative", "scale": null}
}
},
{
"data": {"name": "cbtxt"},
"mark": {"type": "text", "align": "left", "baseline": "middle", "font": "DejaVu Sans", "fontSize": 13, "color": "#333333"},
"encoding": {
"x": {"field": "x", "type": "quantitative", "scale": {"domain": [-13.2, 20.4], "nice": false, "zero": false}},
"y": {"field": "y", "type": "quantitative", "scale": {"domain": [-1, 10], "nice": false, "zero": false}},
"text": {"field": "t"}
}
},
{
"data": {"name": "cbtitle"},
"mark": {"type": "text", "align": "center", "baseline": "middle", "angle": 270, "font": "DejaVu Sans", "fontSize": 15, "color": "#333333"},
"encoding": {
"x": {"field": "x", "type": "quantitative", "scale": {"domain": [-13.2, 20.4], "nice": false, "zero": false}},
"y": {"field": "y", "type": "quantitative", "scale": {"domain": [-1, 10], "nice": false, "zero": false}},
"text": {"field": "t"}
}
},
{
"data": {"name": "txt"},
"transform": [{"filter": "datum.a == 'l' && datum.s == 'n'"}],
"mark": {"type": "text", "align": "left", "baseline": "middle", "font": "Lato", "fontSize": 16.5, "color": "#000000"},
"encoding": {
"x": {"field": "x", "type": "quantitative", "scale": {"domain": [-13.2, 20.4], "nice": false, "zero": false}},
"y": {"field": "y", "type": "quantitative", "scale": {"domain": [-1, 10], "nice": false, "zero": false}},
"text": {"field": "t"}
}
},
{
"data": {"name": "txt"},
"transform": [{"filter": "datum.a == 'r' && datum.s == 'n'"}],
"mark": {"type": "text", "align": "right", "baseline": "middle", "font": "Lato", "fontSize": 16.5, "color": "#000000"},
"encoding": {
"x": {"field": "x", "type": "quantitative", "scale": {"domain": [-13.2, 20.4], "nice": false, "zero": false}},
"y": {"field": "y", "type": "quantitative", "scale": {"domain": [-1, 10], "nice": false, "zero": false}},
"text": {"field": "t"}
}
},
{
"data": {"name": "txt"},
"transform": [{"filter": "datum.a == 'c' && datum.s == 'n'"}],
"mark": {"type": "text", "align": "center", "baseline": "middle", "font": "Lato", "fontSize": 16.5, "color": "#000000"},
"encoding": {
"x": {"field": "x", "type": "quantitative", "scale": {"domain": [-13.2, 20.4], "nice": false, "zero": false}},
"y": {"field": "y", "type": "quantitative", "scale": {"domain": [-1, 10], "nice": false, "zero": false}},
"text": {"field": "t"}
}
},
{
"data": {"name": "txt"},
"transform": [{"filter": "datum.a == 'l' && datum.s == 'i'"}],
"mark": {"type": "text", "align": "left", "baseline": "middle", "font": "Lato", "fontSize": 16.5, "fontStyle": "italic", "color": "#000000"},
"encoding": {
"x": {"field": "x", "type": "quantitative", "scale": {"domain": [-13.2, 20.4], "nice": false, "zero": false}},
"y": {"field": "y", "type": "quantitative", "scale": {"domain": [-1, 10], "nice": false, "zero": false}},
"text": {"field": "t"}
}
},
{
"data": {"name": "txt"},
"transform": [{"filter": "datum.a == 'r' && datum.s == 'i'"}],
"mark": {"type": "text", "align": "right", "baseline": "middle", "font": "Lato", "fontSize": 16.5, "fontStyle": "italic", "color": "#000000"},
"encoding": {
"x": {"field": "x", "type": "quantitative", "scale": {"domain": [-13.2, 20.4], "nice": false, "zero": false}},
"y": {"field": "y", "type": "quantitative", "scale": {"domain": [-1, 10], "nice": false, "zero": false}},
"text": {"field": "t"}
}
}
]
}
